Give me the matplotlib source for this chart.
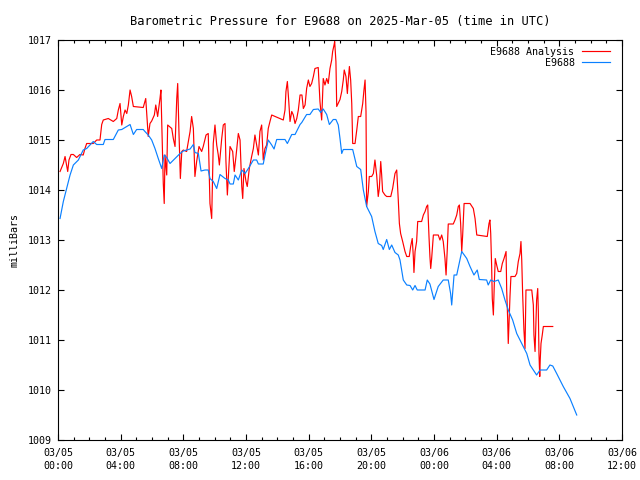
import matplotlib
matplotlib.use("Agg")
import matplotlib.pyplot as plt
import matplotlib.dates as mdates
import pandas as pd

# hours after 2025-03-05 00:00 UTC, pressure in millibars
station_hours = [
    0.13, 0.34, 0.56, 0.77, 0.98, 1.30, 1.61, 1.83, 2.25, 2.47, 2.89, 3.00, 3.53, 3.85,
    4.07, 4.60, 4.81, 5.02, 5.44, 5.55, 5.76, 5.98, 6.19, 6.40, 6.62, 6.78, 6.94, 7.15,
    7.47, 7.79, 8.00, 8.43, 8.64, 8.74, 8.96, 9.13, 9.38, 9.59, 9.70, 9.91, 10.13, 10.34,
    10.66, 10.87, 10.98, 11.19, 11.30, 11.51, 11.73, 11.94, 12.15, 12.47, 12.68, 12.79,
    13.10, 13.21, 13.42, 13.64, 13.79, 13.96, 14.49, 14.64, 14.92, 15.13, 15.45, 15.56,
    15.87, 16.08, 16.30, 16.61, 16.77, 16.93, 17.15, 17.32, 17.57, 17.74, 17.89, 18.00,
    18.11, 18.21, 18.81, 19.07, 19.32, 19.49, 19.70, 20.02, 20.23, 20.44, 20.66, 20.76,
    20.98, 21.15, 21.30, 21.51, 21.72, 21.83, 22.04, 22.26, 22.47, 22.64, 22.79, 22.93,
    23.43, 23.57, 23.74, 24.00, 24.27, 24.59, 24.91, 25.06, 25.13, 25.28, 25.45, 25.77,
    26.09, 26.30, 26.55, 26.76, 26.89, 27.36, 27.46, 27.62, 27.83, 28.10, 28.32, 28.53,
    28.74, 29.02, 29.28, 29.60, 29.92, 30.13, 30.34, 30.55, 30.77, 31.19, 31.40, 31.58,
    31.83, 32.25, 32.68, 33.11,
]
station_mb = [
    1013.43, 1013.77, 1014.04, 1014.30, 1014.50, 1014.60, 1014.80, 1014.83, 1014.97,
    1014.91, 1014.91, 1015.01, 1015.01, 1015.20, 1015.21, 1015.31, 1015.11, 1015.21,
    1015.21, 1015.17, 1015.10, 1015.00, 1014.83, 1014.63, 1014.43, 1014.70, 1014.65,
    1014.53, 1014.63, 1014.73, 1014.78, 1014.82, 1014.91, 1014.75, 1014.73, 1014.38,
    1014.40, 1014.40, 1014.23, 1014.17, 1014.03, 1014.31, 1014.23, 1014.20, 1014.12,
    1014.12, 1014.30, 1014.20, 1014.40, 1014.33, 1014.43, 1014.60, 1014.60, 1014.52,
    1014.52, 1014.69, 1015.00, 1014.90, 1014.82, 1015.01, 1015.01, 1014.93, 1015.11,
    1015.11, 1015.31, 1015.35, 1015.51, 1015.51, 1015.61, 1015.62, 1015.55, 1015.62,
    1015.51, 1015.31, 1015.41, 1015.41, 1015.30, 1015.03, 1014.73, 1014.81, 1014.81,
    1014.47, 1014.41, 1014.00, 1013.67, 1013.47, 1013.17, 1012.93, 1012.89, 1012.81,
    1013.01, 1012.81, 1012.90, 1012.75, 1012.70, 1012.60, 1012.20, 1012.10, 1012.09,
    1012.00, 1012.09, 1012.00, 1012.00, 1012.20, 1012.12, 1011.81, 1012.07, 1012.20,
    1012.20, 1011.93, 1011.70, 1012.30, 1012.30, 1012.77, 1012.63, 1012.47, 1012.30,
    1012.40, 1012.21, 1012.20, 1012.10, 1012.20, 1012.17, 1012.20, 1012.03, 1011.80,
    1011.60, 1011.40, 1011.13, 1010.93, 1010.73, 1010.50, 1010.40, 1010.30, 1010.40,
    1010.40, 1010.50, 1010.48, 1010.33, 1010.07, 1009.83, 1009.50,
]

analysis_hours = [
    0.13, 0.34, 0.45, 0.62, 0.70, 0.83, 0.98, 1.19, 1.40, 1.61, 1.72, 1.83, 2.25, 2.47,
    2.68, 2.79, 2.89, 3.21, 3.53, 3.75, 3.85, 3.96, 4.07, 4.17, 4.28, 4.39, 4.49, 4.60,
    4.70, 4.81, 5.44, 5.60, 5.76, 5.87, 5.98, 6.15, 6.24, 6.36, 6.51, 6.57, 6.66, 6.72,
    6.78, 6.83, 6.94, 7.00, 7.26, 7.36, 7.47, 7.58, 7.64, 7.72, 7.81, 7.90, 8.00, 8.21,
    8.43, 8.53, 8.64, 8.74, 8.85, 9.00, 9.17, 9.27, 9.45, 9.59, 9.70, 9.81, 9.91, 10.02,
    10.13, 10.23, 10.30, 10.45, 10.55, 10.66, 10.72, 10.81, 10.98, 11.15, 11.25, 11.36,
    11.51, 11.62, 11.73, 11.79, 11.87, 12.00, 12.08, 12.21, 12.36, 12.47, 12.57, 12.68,
    12.79, 12.89, 13.00, 13.10, 13.21, 13.32, 13.42, 13.53, 13.64, 14.38, 14.49, 14.55,
    14.64, 14.73, 14.81, 14.92, 15.02, 15.13, 15.24, 15.34, 15.45, 15.57, 15.66, 15.77,
    15.87, 15.98, 16.08, 16.19, 16.30, 16.40, 16.61, 16.72, 16.83, 16.93, 17.04, 17.15,
    17.25, 17.36, 17.47, 17.53, 17.62, 17.66, 17.74, 17.79, 18.00, 18.11, 18.21, 18.27,
    18.38, 18.47, 18.53, 18.60, 18.68, 18.75, 18.81, 18.96, 19.07, 19.17, 19.32, 19.45,
    19.53, 19.60, 19.66, 19.70, 19.81, 19.87, 20.02, 20.13, 20.23, 20.34, 20.44, 20.51,
    20.60, 20.66, 20.72, 20.87, 20.98, 21.24, 21.36, 21.51, 21.62, 21.72, 21.79, 21.87,
    22.00, 22.15, 22.26, 22.42, 22.51, 22.61, 22.68, 22.72, 22.79, 22.89, 22.96, 23.21,
    23.32, 23.43, 23.53, 23.60, 23.68, 23.74, 23.79, 23.85, 23.96, 24.27, 24.38, 24.49,
    24.59, 24.70, 24.77, 24.85, 24.91, 25.23, 25.34, 25.45, 25.55, 25.62, 25.70, 25.77,
    25.83, 25.92, 26.30, 26.51, 26.62, 26.73, 27.40, 27.51, 27.57, 27.62, 27.68, 27.72,
    27.79, 27.85, 27.91, 28.00, 28.10, 28.26, 28.36, 28.47, 28.60, 28.64, 28.70, 28.74,
    28.80, 28.85, 28.91, 29.17, 29.28, 29.38, 29.49, 29.55, 29.60, 29.66, 29.74, 29.81,
    29.87, 30.24, 30.34, 30.38, 30.45, 30.51, 30.55, 30.62, 30.66, 30.70, 30.75, 30.78,
    30.83, 30.91, 30.98, 31.58,
]
analysis_mb = [
    1014.37, 1014.53, 1014.67, 1014.37, 1014.60, 1014.71, 1014.71, 1014.65, 1014.71,
    1014.70, 1014.83, 1014.93, 1014.93, 1015.00, 1015.00, 1015.31, 1015.40, 1015.43,
    1015.37, 1015.43, 1015.60, 1015.73, 1015.30, 1015.47, 1015.60, 1015.53, 1015.70,
    1016.00, 1015.87, 1015.67, 1015.65, 1015.83, 1015.07, 1015.33, 1015.38, 1015.50,
    1015.70, 1015.47, 1015.83, 1016.00, 1014.90, 1014.13, 1013.73, 1014.70, 1014.30,
    1015.30, 1015.23, 1015.03, 1014.87, 1015.83, 1016.13, 1015.17, 1014.23, 1014.77,
    1014.80, 1014.77, 1015.17, 1015.47, 1015.23, 1014.27, 1014.57, 1014.87, 1014.77,
    1014.87, 1015.10, 1015.13, 1013.73, 1013.43, 1014.93, 1015.30, 1014.90, 1014.70,
    1014.50, 1015.03, 1015.30, 1015.33, 1014.57, 1013.90, 1014.87, 1014.77, 1014.37,
    1014.67, 1015.13, 1015.00, 1014.07, 1013.83, 1014.43, 1014.17, 1014.07, 1014.43,
    1014.67, 1014.83, 1015.10, 1014.90, 1014.70, 1015.17, 1015.30, 1014.60, 1014.83,
    1014.90, 1015.23, 1015.37, 1015.50, 1015.40, 1015.60, 1015.97, 1016.17, 1015.77,
    1015.37, 1015.57, 1015.50, 1015.33, 1015.43, 1015.60, 1015.90, 1015.90, 1015.63,
    1015.70, 1016.03, 1016.20, 1016.07, 1016.13, 1016.27, 1016.43, 1016.45, 1015.77,
    1015.40, 1016.23, 1016.10, 1016.23, 1016.13, 1016.43, 1016.60, 1016.77, 1016.90,
    1016.97, 1016.57, 1015.67, 1015.81, 1015.97, 1016.20, 1016.40, 1016.27, 1015.93,
    1016.20, 1016.47, 1016.20, 1015.73, 1014.93, 1014.93, 1015.20, 1015.47, 1015.47,
    1015.73, 1016.00, 1016.20, 1015.57, 1013.67, 1013.97, 1014.27, 1014.27, 1014.33,
    1014.60, 1014.30, 1013.87, 1014.03, 1014.57, 1014.30, 1013.97, 1013.90, 1013.87,
    1013.87, 1014.03, 1014.33, 1014.40, 1013.80, 1013.33, 1013.13, 1012.97, 1012.77,
    1012.67, 1012.67, 1012.87, 1013.03, 1012.67, 1012.35, 1012.77, 1012.97, 1013.37,
    1013.37, 1013.50, 1013.57, 1013.67, 1013.70, 1013.07, 1012.67, 1012.43, 1012.63,
    1013.10, 1013.10, 1013.00, 1013.10, 1012.97, 1012.63, 1012.30, 1012.83, 1013.32,
    1013.32, 1013.40, 1013.50, 1013.67, 1013.70, 1013.33, 1012.77, 1013.10, 1013.73,
    1013.73, 1013.63, 1013.43, 1013.10, 1013.07, 1013.33, 1013.40, 1013.13, 1012.47,
    1011.83, 1011.50, 1012.13, 1012.63, 1012.50, 1012.37, 1012.37, 1012.53, 1012.63,
    1012.77, 1012.00, 1011.43, 1010.93, 1011.43, 1011.87, 1012.27, 1012.27, 1012.33,
    1012.57, 1012.73, 1012.97, 1012.60, 1011.90, 1011.20, 1010.83, 1012.00, 1012.00,
    1011.70, 1011.10, 1010.77, 1011.40, 1011.80, 1012.03, 1011.57, 1010.73, 1010.27,
    1010.60, 1010.93, 1011.10, 1011.27, 1011.27,
]

start = pd.Timestamp("2025-03-05 00:00")
end = pd.Timestamp("2025-03-06 12:00")
t_station = start + pd.to_timedelta(station_hours, unit="h")
t_analysis = start + pd.to_timedelta(analysis_hours, unit="h")

plt.rcParams['font.family'] = ['DejaVu Sans Mono']
plt.rcParams['font.size'] = 7.2

fig = plt.figure(figsize=(6.4, 4.8), dpi=100)
ax = fig.add_axes([58 / 640, 40 / 480, 564 / 640, 400 / 480])

ax.plot(t_analysis, analysis_mb, color='#ff0000', lw=0.85, label='E9688 Analysis')
ax.plot(t_station, station_mb, color='#0a80ff', lw=0.85, label='E9688')

ax.set_xlim(start, end)
ax.set_ylim(1009, 1017)
ax.set_yticks(range(1009, 1018))
ax.xaxis.set_major_locator(mdates.HourLocator(byhour=[0, 4, 8, 12, 16, 20]))
ax.xaxis.set_minor_locator(mdates.HourLocator())
ax.xaxis.set_major_formatter(mdates.DateFormatter('%m/%d\n%H:%M'))

ax.tick_params(which='both', direction='in', top=True, right=True, colors='black')
ax.tick_params(which='major', length=4.5, width=0.8)
ax.tick_params(which='minor', length=2.5, width=0.8)
ax.tick_params(axis='y', which='major', pad=4.5)
ax.tick_params(axis='x', which='major', pad=6)
for lab in ax.get_xticklabels():
    lab.set_linespacing(1.35)
for s in ax.spines.values():
    s.set_linewidth(0.8)

ax.set_ylabel('milliBars', labelpad=6)
ax.set_title('Barometric Pressure for E9688 on 2025-Mar-05 (time in UTC)', pad=11)

leg = ax.legend(loc='upper right', frameon=False, markerfirst=False,
                bbox_to_anchor=(552 / 564, 393 / 400), borderpad=0,
                borderaxespad=0, handlelength=2.8, handletextpad=0.75,
                labelspacing=0.1)
for txt in leg.get_texts():
    txt.set_ha('right')

fig.savefig('out.png', dpi=100)
